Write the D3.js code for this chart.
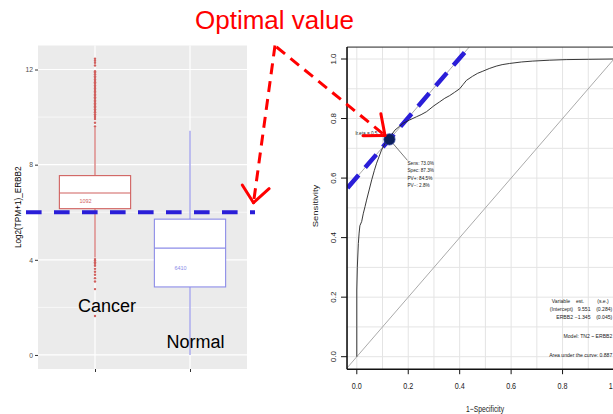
<!DOCTYPE html>
<html>
<head>
<meta charset="utf-8">
<script src="https://cdn.jsdelivr.net/npm/d3@7"></script>
<style>
  html, body { margin: 0; padding: 0; background: #fff; }
  svg { display: block; font-family: "Liberation Sans", Arial, sans-serif; }
</style>
</head>
<body>
<svg id="chart" width="613" height="414"></svg>
<script>
// ---------------- DATA ----------------
const categories = ["Cancer", "Normal"];
const boxQ1 = [6.15, 2.86];
const boxMedian = [6.81, 4.49];
const boxQ3 = [7.54, 5.71];
const whiskerLow = [4.1, 0.0];
const whiskerHigh = [9.56, 9.43];
const boxCounts = ["1092", "6410"];
const cancerOutliers = [9.61, 9.76, 9.92, 10.0, 10.05, 10.12, 10.2, 10.26, 10.33, 10.4, 10.46, 10.52,
  10.58, 10.65, 10.7, 10.77, 10.83, 10.9, 10.95, 11.02, 11.08, 11.14, 11.2, 11.27, 11.33, 11.4,
  11.46, 11.52, 11.58, 11.65, 11.72, 11.8, 11.87, 11.93, 12.17, 12.28, 12.37, 12.45,
  4.03, 3.97, 3.9, 3.83, 3.75, 3.62, 3.5, 3.37, 3.23, 3.09, 2.77, 1.64];
const leftMajorTicks = [0, 4, 8, 12];
const leftMinorTicks = [2, 6, 10];
const cutoffValue = 6.0;

const rocFpr = [0, 0, 0, 0.002, 0.006, 0.009, 0.012, 0.019, 0.025, 0.032, 0.038, 0.048, 0.058, 0.068,
  0.077, 0.087, 0.096, 0.106, 0.116, 0.127, 0.135, 0.148, 0.165, 0.18, 0.205, 0.232, 0.25, 0.271,
  0.3, 0.322, 0.342, 0.361, 0.38, 0.4, 0.413, 0.426, 0.45, 0.47, 0.49, 0.515, 0.542, 0.565, 0.594,
  0.64, 0.684, 0.75, 0.814, 0.9, 1.0];
const rocTpr = [0, 0.1, 0.224, 0.3, 0.38, 0.415, 0.44, 0.454, 0.48, 0.504, 0.526, 0.56, 0.594, 0.625,
  0.65, 0.673, 0.694, 0.71, 0.724, 0.73, 0.745, 0.761, 0.773, 0.784, 0.795, 0.806, 0.813, 0.823,
  0.843, 0.856, 0.868, 0.877, 0.888, 0.9, 0.914, 0.928, 0.942, 0.952, 0.959, 0.968, 0.976, 0.981,
  0.985, 0.99, 0.993, 0.996, 0.998, 0.999, 1.0];
const optimalFpr = 0.127;
const optimalSens = 0.730;
const rocTicks = [0, 0.2, 0.4, 0.6, 0.8, 1.0];
const rocXTickLabels = ["0.0", "0.2", "0.4", "0.6", "0.8", "1"];
const rocYTickLabels = ["0.0", "0.2", "0.4", "0.6", "0.8", "1.0"];
const rocGrid = [0, 0.1, 0.2, 0.3, 0.4, 0.5, 0.6, 0.7, 0.8, 0.9, 1.0];
const optimalLabels = ["Sens: 73.0%", "Spec: 87.3%", "PV+: 84.5%", "PV\u2212: 2.8%"];
const modelTable = [["Variable", "est.", "(s.e.)"], ["(Intercept)", "9.551", "(0.284)"], ["ERBB2", "\u22121.345", "(0.045)"]];
const modelText = "Model:  TN2 ~ ERBB2";
const aucText = "Area under the curve: 0.887";

// ---------------- SETUP ----------------
const svg = d3.select("#chart");
const FONT = "'Liberation Sans', Arial, sans-serif";
const cancerCol = "#d0605e";
const normalCol = "#8c8ce8";
const boxCols = [cancerCol, normalCol];
const blue = "#2a1ed8";
const red = "#ff0000";

// ---------------- LEFT PANEL (boxplot) ----------------
const L = { left: 38, right: 247, top: 45.5, bottom: 369 };
const xL = d3.scalePoint().domain(categories).range([L.left, L.right]).padding(0.6);
const yL = d3.scaleLinear().domain([-0.59, 13.01]).range([L.bottom, L.top]);
const bw = xL.step() * 0.75;

const gL = svg.append("g");
gL.append("rect").attr("x", L.left).attr("y", L.top).attr("width", L.right - L.left)
  .attr("height", L.bottom - L.top).attr("fill", "#ebebeb");
gL.selectAll(".minor").data(leftMinorTicks).join("line")
  .attr("x1", L.left).attr("x2", L.right).attr("y1", d => yL(d)).attr("y2", d => yL(d))
  .attr("stroke", "#fff").attr("stroke-width", 0.6);
gL.selectAll(".major").data(leftMajorTicks).join("line")
  .attr("x1", L.left).attr("x2", L.right).attr("y1", d => yL(d)).attr("y2", d => yL(d))
  .attr("stroke", "#fff").attr("stroke-width", 1.2);
gL.selectAll(".vgrid").data(categories).join("line")
  .attr("x1", d => xL(d)).attr("x2", d => xL(d)).attr("y1", L.top).attr("y2", L.bottom)
  .attr("stroke", "#fff").attr("stroke-width", 1.2);

// y axis
const yAxisL = d3.axisLeft(yL).tickValues(leftMajorTicks).tickSize(3).tickPadding(2);
const gyL = svg.append("g").attr("transform", `translate(${L.left},0)`).call(yAxisL);
gyL.select(".domain").remove();
gyL.selectAll("line").attr("stroke", "#333");
gyL.selectAll("text").attr("fill", "#4d4d4d").style("font-size", "6.8px").style("font-family", FONT);
const xAxisL = d3.axisBottom(xL).tickSize(3).tickFormat("");
const gxL = svg.append("g").attr("transform", `translate(0,${L.bottom})`).call(xAxisL);
gxL.select(".domain").remove();
gxL.selectAll("line").attr("stroke", "#333");

svg.append("text").attr("transform", `translate(21,${(L.top + L.bottom) / 2}) rotate(-90)`)
  .attr("text-anchor", "middle").style("font-size", "8.2px").style("font-family", FONT)
  .attr("fill", "#000").text("Log2(TPM+1)_ERBB2");

// boxes
categories.forEach((c, i) => {
  const cx = xL(c), col = boxCols[i];
  const g = gL.append("g");
  g.append("line").attr("x1", cx).attr("x2", cx).attr("y1", yL(boxQ3[i])).attr("y2", yL(whiskerHigh[i]))
    .attr("stroke", col).attr("stroke-width", 1.1);
  g.append("line").attr("x1", cx).attr("x2", cx).attr("y1", yL(boxQ1[i])).attr("y2", yL(whiskerLow[i]))
    .attr("stroke", col).attr("stroke-width", 1.1);
  g.append("rect").attr("x", cx - bw / 2).attr("width", bw).attr("y", yL(boxQ3[i]))
    .attr("height", yL(boxQ1[i]) - yL(boxQ3[i])).attr("fill", "#fff").attr("stroke", col).attr("stroke-width", 1.1);
  g.append("line").attr("x1", cx - bw / 2).attr("x2", cx + bw / 2).attr("y1", yL(boxMedian[i])).attr("y2", yL(boxMedian[i]))
    .attr("stroke", col).attr("stroke-width", 1.1);
  g.append("text").attr("x", cx - 9.5).attr("y", (yL(boxMedian[i]) + yL(boxQ1[i])) / 2 + 2)
    .attr("text-anchor", "middle").style("font-size", "5.5px").style("font-family", FONT)
    .attr("fill", col).text(boxCounts[i]);
});
gL.selectAll(".out").data(cancerOutliers).join("circle")
  .attr("cx", xL("Cancer")).attr("cy", d => yL(d)).attr("r", 1.2).attr("fill", cancerCol);

// cutoff dashed line
svg.append("line").attr("x1", 26).attr("x2", 255).attr("y1", yL(cutoffValue)).attr("y2", yL(cutoffValue))
  .attr("stroke", blue).attr("stroke-width", 4).attr("stroke-dasharray", "15.6 12.4");

// group labels
svg.append("text").attr("x", 78).attr("y", 311.5).style("font-size", "18px").style("font-family", FONT)
  .attr("fill", "#000").text("Cancer");
svg.append("text").attr("x", 166.5).attr("y", 347.5).style("font-size", "18px").style("font-family", FONT)
  .attr("fill", "#000").text("Normal");

// ---------------- RIGHT PANEL (ROC) ----------------
const xR = d3.scaleLinear().domain([0, 1]).range([356.8, 614]);
const yR = d3.scaleLinear().domain([0, 1]).range([356.7, 59]);
const R = { left: xR(-0.038), right: xR(1.04), top: yR(1.04), bottom: yR(-0.042) };
const gR = svg.append("g");
svg.append("clipPath").attr("id", "rocclip").append("rect")
  .attr("x", R.left).attr("y", R.top).attr("width", R.right - R.left).attr("height", R.bottom - R.top);
const gRc = gR.append("g").attr("clip-path", "url(#rocclip)");

gRc.selectAll(".vg").data(rocGrid).join("line")
  .attr("x1", d => xR(d)).attr("x2", d => xR(d)).attr("y1", R.top).attr("y2", R.bottom)
  .attr("stroke", "#e4e4e4").attr("stroke-width", 1);
gRc.selectAll(".hg").data(rocGrid).join("line")
  .attr("x1", R.left).attr("x2", R.right).attr("y1", d => yR(d)).attr("y2", d => yR(d))
  .attr("stroke", "#e4e4e4").attr("stroke-width", 1);

// diagonal
gRc.append("line").attr("x1", xR(-0.05)).attr("y1", yR(-0.05)).attr("x2", xR(1.05)).attr("y2", yR(1.05))
  .attr("stroke", "#a0a0a0").attr("stroke-width", 0.9);
// tangent (Youden) line
const youden = optimalSens - optimalFpr;
gRc.append("line").attr("x1", xR(-0.05)).attr("y1", yR(-0.05 + youden)).attr("x2", xR(1.05 - youden)).attr("y2", yR(1.05))
  .attr("stroke", "#a0a0a0").attr("stroke-width", 0.9);
// blue dashed over tangent
gRc.append("line").attr("x1", xR(-0.036)).attr("y1", yR(-0.036 + youden)).attr("x2", xR(0.424)).attr("y2", yR(0.424 + youden))
  .attr("stroke", blue).attr("stroke-width", 4.5).attr("stroke-dasharray", "17 10");

// ROC curve
const rocPts = rocFpr.map((f, i) => [f, rocTpr[i]]);
gRc.append("path").datum(rocPts)
  .attr("d", d3.line().x(d => xR(d[0])).y(d => yR(d[1])))
  .attr("fill", "none").attr("stroke", "#222").attr("stroke-width", 0.9);

// optimal point
const px = xR(optimalFpr), py = yR(optimalSens);
gR.append("line").attr("x1", px).attr("y1", py).attr("x2", px + 18).attr("y2", py + 21)
  .attr("stroke", "#555").attr("stroke-width", 0.8);
gR.append("circle").attr("cx", px).attr("cy", py).attr("r", 5.6)
  .attr("fill", "#0c1f5c").attr("stroke", "#2a3c9a").attr("stroke-width", 0.8);
gR.selectAll(".ol").data(optimalLabels).join("text")
  .attr("x", px + 18).attr("y", (d, i) => py + 25.8 + i * 7.3)
  .style("font-size", "4.7px").style("font-family", FONT).attr("fill", "#222").text(d => d);
gR.append("text").attr("x", px - 34).attr("y", py - 4.6)
  .style("font-size", "4.7px").style("font-family", FONT).attr("fill", "#222").text("lr.eta = 0.5");

// frame
gR.append("line").attr("x1", R.left).attr("x2", 613).attr("y1", R.top).attr("y2", R.top)
  .attr("stroke", "#222").attr("stroke-width", 1);
gR.append("line").attr("x1", R.left).attr("x2", R.left).attr("y1", R.top).attr("y2", R.bottom)
  .attr("stroke", "#111").attr("stroke-width", 1.6);
gR.append("line").attr("x1", R.left).attr("x2", 613).attr("y1", R.bottom).attr("y2", R.bottom)
  .attr("stroke", "#111").attr("stroke-width", 1.6);

// ticks
gR.selectAll(".xt").data(rocTicks).join("line")
  .attr("x1", d => xR(d)).attr("x2", d => xR(d)).attr("y1", R.bottom).attr("y2", R.bottom + 5)
  .attr("stroke", "#111").attr("stroke-width", 1);
gR.selectAll(".yt").data(rocTicks).join("line")
  .attr("y1", d => yR(d)).attr("y2", d => yR(d)).attr("x1", R.left).attr("x2", R.left - 6)
  .attr("stroke", "#111").attr("stroke-width", 1);
gR.selectAll(".xtl").data(rocTicks).join("text")
  .attr("transform", d => `translate(${Math.min(xR(d), 610.8)},389) scale(0.8,1)`)
  .attr("text-anchor", "middle").style("font-size", "9px").style("font-family", FONT)
  .attr("fill", "#222").text((d, i) => rocXTickLabels[i]);
gR.selectAll(".ytl").data(rocTicks).join("text")
  .attr("transform", d => `translate(336.2,${yR(d)}) scale(0.8,1) rotate(-90)`)
  .attr("text-anchor", "middle").style("font-size", "8px").style("font-family", FONT)
  .attr("fill", "#222").text((d, i) => rocYTickLabels[i]);

// axis titles
gR.append("text").attr("transform", `translate(485,412) scale(0.75,1)`)
  .attr("text-anchor", "middle").style("font-size", "9px").style("font-family", FONT)
  .attr("fill", "#222").text("1\u2212Specificity");
gR.append("text").attr("transform", `translate(318,206) scale(0.8,1) rotate(-90)`)
  .attr("text-anchor", "middle").style("font-size", "9.5px").style("font-family", FONT)
  .attr("fill", "#222").text("Sensitivity");

// model table
const colRight = [573, 590.5, 612.3];
modelTable.forEach((row, r) => {
  row.forEach((t, c) => {
    gR.append("text").attr("x", r === 0 ? [561, 580, 603][c] : colRight[c])
      .attr("y", 302.5 + r * 8.3)
      .attr("text-anchor", r === 0 ? "middle" : "end")
      .style("font-size", "5.1px").style("font-family", FONT).attr("fill", "#222").text(t);
  });
});
gR.append("text").attr("x", 612.3).attr("y", 337.8).attr("text-anchor", "end")
  .style("font-size", "5.1px").style("font-family", FONT).attr("fill", "#222").text(modelText);
gR.append("text").attr("x", 612.3).attr("y", 356.8).attr("text-anchor", "end")
  .style("font-size", "5.1px").style("font-family", FONT).attr("fill", "#222").text(aucText);

// ---------------- ANNOTATIONS ----------------
svg.append("text").attr("x", 195).attr("y", 29).style("font-size", "26px").style("font-family", FONT)
  .attr("fill", red).text("Optimal value");

const apex = [275, 45.5];
const tipL = [253.5, yL(cutoffValue) - 9.5];
const tipR = [px - 4.5, py - 4];
function arrow(from, to, len) {
  svg.append("line").attr("x1", from[0]).attr("y1", from[1]).attr("x2", to[0]).attr("y2", to[1])
    .attr("stroke", red).attr("stroke-width", 3).attr("stroke-dasharray", "11 7");
  const ang = Math.atan2(from[1] - to[1], from[0] - to[0]);
  [-0.7, 0.7].forEach(da => {
    svg.append("line").attr("x1", to[0]).attr("y1", to[1])
      .attr("x2", to[0] + len * Math.cos(ang + da)).attr("y2", to[1] + len * Math.sin(ang + da))
      .attr("stroke", red).attr("stroke-width", 3).attr("stroke-linecap", "round");
  });
}
arrow(apex, tipL, 21);
arrow([apex[0] + 1.5, apex[1] + 1.5], tipR, 22);
</script>
</body>
</html>
